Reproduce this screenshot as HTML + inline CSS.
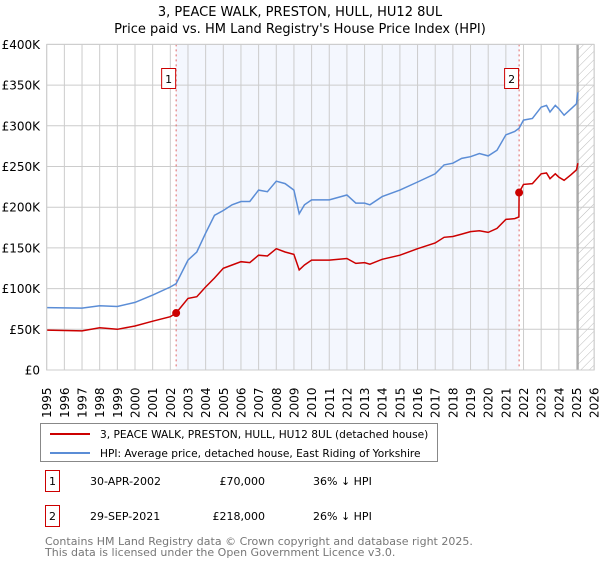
<!DOCTYPE html>
<html><head><meta charset="utf-8"><style>
body{margin:0;background:#fff;font-family:"Liberation Sans","DejaVu Sans",sans-serif;}
svg text{font-family:"DejaVu Sans","Liberation Sans",sans-serif;}
</style></head><body>
<svg id="c" width="600" height="560" viewBox="0 0 600 560" xmlns="http://www.w3.org/2000/svg">
<defs><pattern id="hatch" width="6" height="6" patternUnits="userSpaceOnUse" patternTransform="rotate(45)"><line x1="0" y1="0" x2="0" y2="6" stroke="#bbb" stroke-width="1"/></pattern></defs>
<text x="300" y="16" text-anchor="middle" font-size="13" fill="#000">3, PEACE WALK, PRESTON, HULL, HU12 8UL</text>
<text x="300" y="33" text-anchor="middle" font-size="13" fill="#000">Price paid vs. HM Land Registry's House Price Index (HPI)</text>
<g id="plot"></g>
<g>
<rect x="40.5" y="423.5" width="397" height="38" fill="#fff" stroke="#888"/>
<line x1="50" y1="434" x2="90" y2="434" stroke="#cc0000" stroke-width="2"/>
<text x="100" y="438" font-size="10.6">3, PEACE WALK, PRESTON, HULL, HU12 8UL (detached house)</text>
<line x1="50" y1="453" x2="90" y2="453" stroke="#5b8dd6" stroke-width="2"/>
<text x="100" y="457" font-size="10.6">HPI: Average price, detached house, East Riding of Yorkshire</text>
</g>
<g font-size="11">
<rect x="45.5" y="470.5" width="14" height="21" fill="#fff" stroke="#cc0000"/>
<text x="52.5" y="485" text-anchor="middle">1</text>
<text x="90" y="485">30-APR-2002</text>
<text x="265" y="485" text-anchor="end">£70,000</text>
<text x="313" y="485">36% ↓ HPI</text>
<rect x="45.5" y="505.5" width="14" height="21" fill="#fff" stroke="#cc0000"/>
<text x="52.5" y="520" text-anchor="middle">2</text>
<text x="90" y="520">29-SEP-2021</text>
<text x="265" y="520" text-anchor="end">£218,000</text>
<text x="313" y="520">26% ↓ HPI</text>
</g>
<text x="45" y="545" font-size="11" fill="#777">Contains HM Land Registry data © Crown copyright and database right 2025.</text>
<text x="45" y="556" font-size="11" fill="#777">This data is licensed under the Open Government Licence v3.0.</text>
</svg>
<script>
const hpiYears=[1995,1997,1998,1999,2000,2001,2002,2002.33,2003,2003.5,2004,2004.5,2005,2005.5,2006,2006.5,2007,2007.5,2008,2008.5,2009,2009.3,2009.6,2010,2011,2012,2012.5,2013,2013.3,2014,2015,2016,2017,2017.5,2018,2018.5,2019,2019.5,2020,2020.5,2021,2021.5,2021.75,2022,2022.5,2023,2023.3,2023.5,2023.8,2024,2024.3,2024.7,2025,2025.08];
const hpiValues=[76.6,76,79,78,83,92,102,106,135,145,168,190,196,203,207,207,221,219,232,229,221,192,203,209,209,215,205,205,203,213,221,231,241,252,254,260,262,266,263,270,289,293,297,307,309,323,325,317,325,321,313,321,327,341];
const propYears=[1995,1997,1998,1999,2000,2001,2002,2002.33,2003,2003.5,2004,2004.5,2005,2005.5,2006,2006.5,2007,2007.5,2008,2008.5,2009,2009.3,2009.6,2010,2011,2012,2012.5,2013,2013.3,2014,2015,2016,2017,2017.5,2018,2018.5,2019,2019.5,2020,2020.5,2021,2021.5,2021.74,2021.75,2022,2022.5,2023,2023.3,2023.5,2023.8,2024,2024.3,2024.7,2025,2025.08];
const propValues=[49,48,52,50,54,60,65.5,70,88,90,102,113,125,129,133,132,141,140,149,145,142,123,129,135,135,137,131,132,130,136,141,149,156,163,164,167,170,171,169,174,185,186,188,218,228,229,241,242,235,241,237,233,240,246,254];
const saleYears=[2002.33,2021.75];
const saleValues=[70,218];
const saleLabels=["1","2"];
const yTicks=[0,50,100,150,200,250,300,350,400];
const yTickLabels=["£0","£50K","£100K","£150K","£200K","£250K","£300K","£350K","£400K"];
const xTicks=[1995,1996,1997,1998,1999,2000,2001,2002,2003,2004,2005,2006,2007,2008,2009,2010,2011,2012,2013,2014,2015,2016,2017,2018,2019,2020,2021,2022,2023,2024,2025,2026];
const dataEnd=2025.08;

const NS="http://www.w3.org/2000/svg";
const X0=46.7,PX=17.66,Y0=370,PY=40.7/50;
const xs=y=>X0+(y-1995)*PX;
const ys=v=>Y0-v*PY;
const g=document.getElementById('plot');
function el(t,a,parent){const e=document.createElementNS(NS,t);for(const k in a)e.setAttribute(k,a[k]);(parent||g).appendChild(e);return e;}
const L=xs(1995),R=xs(2026),T=ys(400),B=ys(0);
let e;
e=el('rect',{x:xs(saleYears[0]),y:T,width:xs(saleYears[1])-xs(saleYears[0]),height:B-T,fill:'#f4f7fe'});


e=el('rect',{x:xs(dataEnd),y:T,width:R-xs(dataEnd),height:B-T,fill:'url(#hatch)'});


xTicks.forEach((t,i)=>{
  e=el('line',{x1:xs(t),x2:xs(t),y1:T,y2:B,stroke:'#ccc','stroke-width':1});
  
  
  e=el('text',{x:0,y:0,'font-size':12,transform:`translate(${xs(t)+4.5},418) rotate(-90)`});
  e.textContent=t;
  
  
});
yTicks.forEach((t,i)=>{
  e=el('line',{x1:L,x2:R,y1:ys(t),y2:ys(t),stroke:'#ccc','stroke-width':1});
  
  
  e=el('text',{x:40,y:ys(t)+4.5,'font-size':12,'text-anchor':'end'});
  e.textContent=yTickLabels[i];
  
  
});
e=el('line',{x1:xs(dataEnd),x2:xs(dataEnd),y1:T,y2:B,stroke:'#999','stroke-width':1.5});


saleYears.forEach((s,i)=>{
  e=el('line',{x1:xs(s),x2:xs(s),y1:T,y2:B,stroke:'#e06666','stroke-width':1,'stroke-dasharray':'2,3'});
  
  
});
function pts(xa,va){return xa.map((x,i)=>xs(x).toFixed(1)+','+ys(va[i]).toFixed(1)).join(' ');}
e=el('polyline',{points:pts(hpiYears,hpiValues),fill:'none',stroke:'#5b8dd6','stroke-width':1.5});


e=el('polyline',{points:pts(propYears,propValues),fill:'none',stroke:'#cc0000','stroke-width':1.5});


saleYears.forEach((s,i)=>{
  e=el('circle',{cx:xs(s),cy:ys(saleValues[i]),r:4,fill:'#cc0000'});
  
  
  e=el('rect',{x:xs(s)-14.5,y:68.5,width:14,height:20,fill:'#fff',stroke:'#cc0000'});
  
  
  e=el('text',{x:xs(s)-7.5,y:83,'font-size':11,'text-anchor':'middle'});
  e.textContent=saleLabels[i];
  
  
});
e=el('rect',{x:L,y:T,width:R-L,height:B-T,fill:'none',stroke:'#ccc'});


</script>
</body></html>
